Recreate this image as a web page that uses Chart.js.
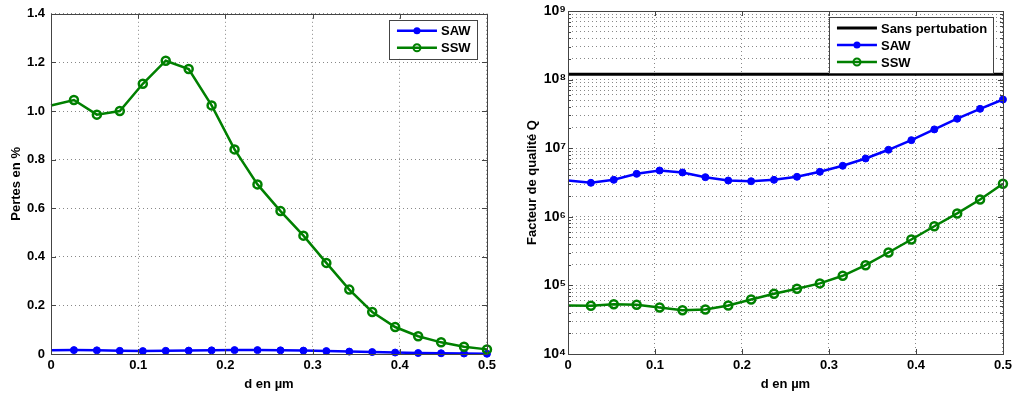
<!DOCTYPE html>
<html>
<head>
<meta charset="utf-8">
<script src="https://cdn.jsdelivr.net/npm/chart.js@4.4.0/dist/chart.umd.min.js"></script>
<style>
  html, body { margin: 0; padding: 0; background: #fff; }
  #wrap { position: relative; width: 1016px; height: 397px; }
  #lossChart { position: absolute; left: 0; top: 0; }
  #qChart { position: absolute; left: 500px; top: 0; }
</style>
</head>
<body>
<div id="wrap">
  <canvas id="lossChart" width="500" height="397"></canvas>
  <canvas id="qChart" width="516" height="397"></canvas>
</div>
<script>
// d en µm (20 points from 0 to 0.5)
const dValues = [0, 0.0263, 0.0526, 0.0789, 0.1053, 0.1316, 0.1579, 0.1842, 0.2105, 0.2368,
                 0.2632, 0.2895, 0.3158, 0.3421, 0.3684, 0.3947, 0.4211, 0.4474, 0.4737, 0.5];

// left panel: Pertes en %
const lossSAW = [0.015, 0.016, 0.015, 0.013, 0.012, 0.013, 0.014, 0.015, 0.016, 0.016,
                 0.015, 0.014, 0.012, 0.010, 0.008, 0.006, 0.004, 0.003, 0.002, 0.001];
const lossSSW = [1.023, 1.045, 0.985, 1.0, 1.112, 1.207, 1.173, 1.023, 0.842, 0.698,
                 0.588, 0.487, 0.375, 0.265, 0.173, 0.111, 0.073, 0.048, 0.030, 0.019];

// right panel: Facteur de qualité Q
const qSAW = [3.38e6, 3.13e6, 3.46e6, 4.23e6, 4.73e6, 4.43e6, 3.78e6, 3.38e6, 3.30e6, 3.46e6,
              3.83e6, 4.53e6, 5.54e6, 7.08e6, 9.48e6, 1.31e7, 1.88e7, 2.69e7, 3.75e7, 5.13e7];
const qSSW = [5.09e4, 5.04e4, 5.32e4, 5.21e4, 4.76e4, 4.35e4, 4.45e4, 5.09e4, 6.22e4, 7.55e4,
              8.92e4, 1.07e5, 1.38e5, 1.97e5, 3.02e5, 4.67e5, 7.29e5, 1.12e6, 1.79e6, 3.03e6];
const qRef = 1.2e8; // Sans pertubation

// tick labels
const qExponents = [4, 5, 6, 7, 8, 9];
const qTickLabels = ['10⁴', '10⁵', '10⁶', '10⁷', '10⁸', '10⁹'];

const FONT = "'Liberation Sans', Arial, sans-serif";
const BLUE = '#0000ff';
const GREEN = '#008000';

const pts = ys => dValues.map((x, i) => ({ x: x, y: ys[i] }));
// no marker on the first sample (as in the original figure)
const markerR = r => ctx => (ctx.dataIndex === 0 ? 0 : r);

function sawSet(ys) {
  return {
    label: 'SAW', data: pts(ys), borderColor: BLUE, borderWidth: 2.5,
    pointStyle: 'circle', pointRadius: markerR(3.5), pointBackgroundColor: BLUE,
    pointBorderColor: BLUE, pointBorderWidth: 1, clip: false, order: 1,
    legendMarker: 'dot'
  };
}
function sswSet(ys) {
  return {
    label: 'SSW', data: pts(ys), borderColor: GREEN, borderWidth: 2.5,
    pointStyle: 'circle', pointRadius: markerR(4), pointBackgroundColor: 'rgba(0,0,0,0)',
    pointBorderColor: GREEN, pointBorderWidth: 2.5, clip: false, order: 0,
    legendMarker: 'ring'
  };
}

// MATLAB-like frame: box + inward ticks
const matlabFrame = {
  id: 'matlabFrame',
  afterDatasetsDraw(chart) {
    const a = chart.chartArea, ctx = chart.ctx;
    ctx.save();
    ctx.strokeStyle = '#444';
    ctx.lineWidth = 1;
    ctx.beginPath();
    const xs = chart.scales.x;
    xs.ticks.forEach(t => {
      const px = Math.round(xs.getPixelForValue(t.value)) + 0.5;
      ctx.moveTo(px, a.bottom); ctx.lineTo(px, a.bottom - 5);
      ctx.moveTo(px, a.top); ctx.lineTo(px, a.top + 5);
    });
    const ys = chart.scales.y;
    ys.ticks.forEach(t => {
      const len = t.major === false ? 3 : 5;
      const py = Math.round(ys.getPixelForValue(t.value)) + 0.5;
      ctx.moveTo(a.left, py); ctx.lineTo(a.left + len, py);
      ctx.moveTo(a.right, py); ctx.lineTo(a.right - len, py);
    });
    ctx.stroke();
    ctx.strokeRect(Math.round(a.left) + 0.5, Math.round(a.top) + 0.5,
                   Math.round(a.right - a.left), Math.round(a.bottom - a.top));
    ctx.restore();
  }
};

// boxed legend in top-right corner of the axes
const boxLegend = {
  id: 'boxLegend',
  afterDraw(chart, args, opts) {
    const a = chart.chartArea, ctx = chart.ctx;
    const sets = chart.data.datasets.slice().sort((p, q) => (p.legendIndex - q.legendIndex));
    const w = opts.width, rowH = 17, h = sets.length * rowH + 5;
    const x0 = a.right - 10 - w, y0 = a.top + 6;
    ctx.save();
    ctx.fillStyle = '#fff';
    ctx.fillRect(x0, y0, w, h);
    ctx.strokeStyle = '#444';
    ctx.lineWidth = 1;
    ctx.strokeRect(Math.round(x0) + 0.5, Math.round(y0) + 0.5, Math.round(w), Math.round(h));
    sets.forEach((ds, i) => {
      const cy = y0 + 11 + i * rowH;
      const lx0 = x0 + 8, lx1 = x0 + 48, mx = (lx0 + lx1) / 2;
      ctx.strokeStyle = ds.borderColor;
      ctx.lineWidth = ds.borderWidth;
      ctx.beginPath(); ctx.moveTo(lx0, cy); ctx.lineTo(lx1, cy); ctx.stroke();
      if (ds.legendMarker === 'dot') {
        ctx.fillStyle = ds.borderColor;
        ctx.beginPath(); ctx.arc(mx, cy, 3.5, 0, Math.PI * 2); ctx.fill();
      } else if (ds.legendMarker === 'ring') {
        ctx.lineWidth = 2;
        ctx.beginPath(); ctx.arc(mx, cy, 3.5, 0, Math.PI * 2); ctx.stroke();
      }
      ctx.fillStyle = '#000';
      ctx.font = 'bold 13px ' + FONT;
      ctx.textBaseline = 'middle';
      ctx.textAlign = 'left';
      ctx.fillText(ds.label, lx1 + 4, cy + 1);
    });
    ctx.restore();
  }
};

const gridStyle = { color: '#888', lineWidth: 1, drawTicks: false };
const borderStyle = { display: false, dash: [1, 3] };
const tickFont = { family: FONT, size: 13, weight: 'bold' };
const titleFont = { family: FONT, size: 13, weight: 'bold' };

function xAxis() {
  return {
    type: 'linear', min: 0, max: 0.5,
    afterFit: s => { s.height = 43; },
    grid: gridStyle, border: borderStyle,
    ticks: { stepSize: 0.1, color: '#000', font: tickFont, padding: 4, maxRotation: 0 },
    title: { display: true, text: 'd en µm', color: '#000', font: titleFont, padding: { top: 0, bottom: 5 } }
  };
}

// left: losses
new Chart(document.getElementById('lossChart'), {
  type: 'line',
  data: {
    datasets: [
      Object.assign(sawSet(lossSAW), { legendIndex: 0 }),
      Object.assign(sswSet(lossSSW), { legendIndex: 1 })
    ]
  },
  options: {
    animation: false, responsive: false, devicePixelRatio: 1,
    layout: { padding: { top: 11, right: 13, left: 0, bottom: 0 } },
    elements: { line: { tension: 0 } },
    scales: {
      x: xAxis(),
      y: {
        type: 'linear', min: 0, max: 1.4,
        afterFit: s => { s.width = 51; },
        grid: gridStyle, border: borderStyle,
        ticks: { stepSize: 0.2, color: '#000', font: tickFont, padding: 6 },
        title: { display: true, text: 'Pertes en %', color: '#000', font: titleFont, padding: { top: 9, bottom: 0 } }
      }
    },
    plugins: { legend: { display: false }, tooltip: { enabled: false }, boxLegend: { width: 88 } }
  },
  plugins: [matlabFrame, boxLegend]
});

// right: quality factor
new Chart(document.getElementById('qChart'), {
  type: 'line',
  data: {
    datasets: [
      {
        label: 'Sans pertubation', data: dValues.map(x => ({ x: x, y: qRef })),
        borderColor: '#000', borderWidth: 3, pointRadius: 0, clip: false, order: 2,
        legendIndex: 0, legendMarker: 'none'
      },
      Object.assign(sawSet(qSAW), { legendIndex: 1 }),
      Object.assign(sswSet(qSSW), { legendIndex: 2 })
    ]
  },
  options: {
    animation: false, responsive: false, devicePixelRatio: 1,
    layout: { padding: { top: 11, right: 12, left: 0, bottom: 0 } },
    elements: { line: { tension: 0 } },
    scales: {
      x: xAxis(),
      y: {
        type: 'logarithmic', min: 1e4, max: 1e9,
        afterFit: s => { s.width = 68; },
        afterBuildTicks: s => {
          const ticks = [];
          qExponents.forEach((e, i) => {
            const base = Math.pow(10, e);
            ticks.push({ value: base, major: true });
            if (i < qExponents.length - 1) {
              for (let m = 2; m <= 9; m++) ticks.push({ value: m * base, major: false });
            }
          });
          s.ticks = ticks;
        },
        grid: gridStyle, border: borderStyle,
        ticks: {
          color: '#000', font: { family: FONT, size: 14, weight: 'bold' }, padding: 2, autoSkip: false,
          callback: v => {
            const idx = qExponents.findIndex(e => Math.abs(Math.pow(10, e) - v) < 1e-6 * v);
            return idx >= 0 ? qTickLabels[idx] : '';
          }
        },
        title: { display: true, text: 'Facteur de qualité Q', color: '#000', font: titleFont, padding: { top: 25, bottom: 0 } }
      }
    },
    plugins: { legend: { display: false }, tooltip: { enabled: false }, boxLegend: { width: 164 } }
  },
  plugins: [matlabFrame, boxLegend]
});
</script>
</body>
</html>
